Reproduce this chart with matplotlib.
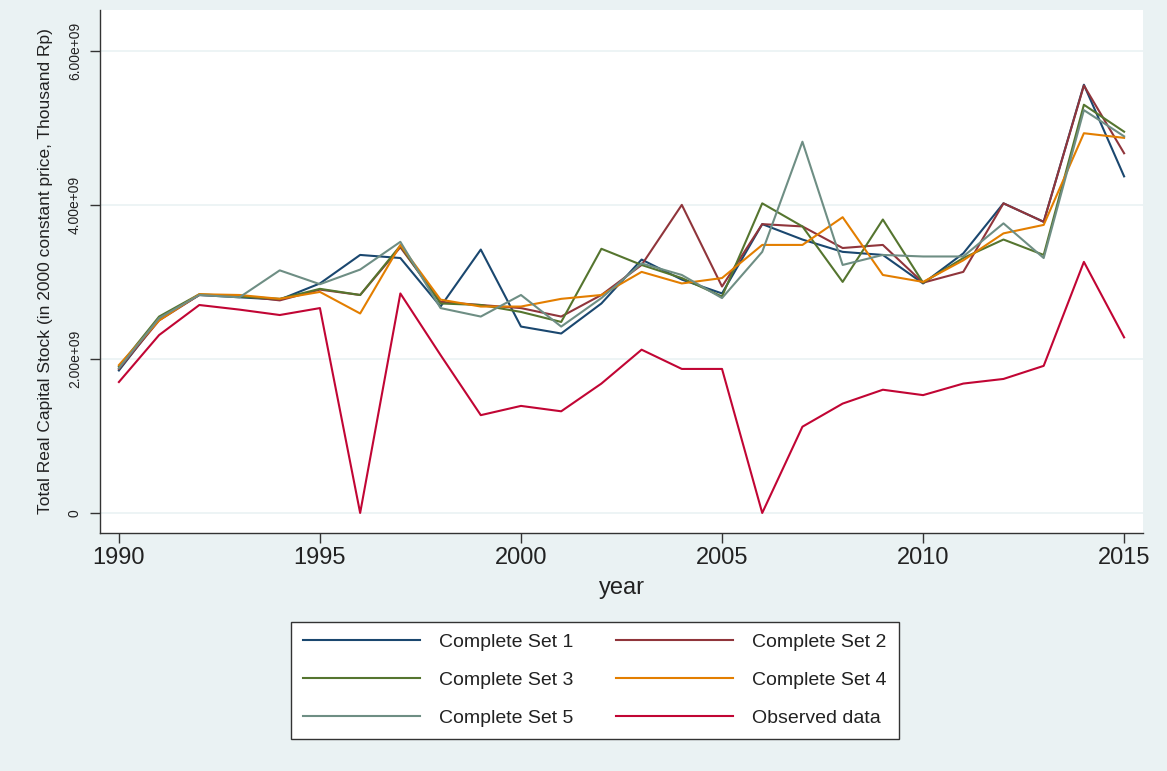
import matplotlib
matplotlib.use("Agg")
import matplotlib.pyplot as plt
import numpy as np

years = list(range(1990, 2016))

set1 = [1.85, 2.52, 2.83, 2.80, 2.77, 2.98, 3.35, 3.31, 2.68, 3.42, 2.42, 2.33, 2.72,
        3.29, 3.03, 2.85, 3.75, 3.55, 3.39, 3.35, 2.98, 3.37, 4.02, 3.78, 5.56, 4.37]
set2 = [1.87, 2.50, 2.83, 2.82, 2.76, 2.90, 2.83, 3.45, 2.74, 2.70, 2.66, 2.55, 2.83,
        3.22, 4.00, 2.94, 3.75, 3.72, 3.44, 3.48, 2.99, 3.13, 4.02, 3.78, 5.55, 4.67]
set3 = [1.90, 2.55, 2.84, 2.81, 2.78, 2.91, 2.83, 3.47, 2.72, 2.70, 2.61, 2.48, 3.43,
        3.22, 3.05, 2.81, 4.02, 3.72, 3.00, 3.81, 2.99, 3.31, 3.55, 3.35, 5.30, 4.95]
set4 = [1.92, 2.50, 2.84, 2.83, 2.78, 2.87, 2.59, 3.48, 2.77, 2.68, 2.68, 2.78, 2.83,
        3.13, 2.98, 3.05, 3.48, 3.48, 3.84, 3.09, 3.00, 3.28, 3.63, 3.74, 4.93, 4.87]
set5 = [1.88, 2.53, 2.83, 2.80, 3.15, 2.97, 3.16, 3.52, 2.66, 2.55, 2.83, 2.42, 2.79,
        3.24, 3.09, 2.79, 3.39, 4.82, 3.22, 3.35, 3.33, 3.33, 3.76, 3.31, 5.23, 4.89]
observed = [1.70, 2.31, 2.70, 2.64, 2.57, 2.66, 0.00, 2.85, 2.05, 1.27, 1.39, 1.32, 1.68,
            2.12, 1.87, 1.87, 0.00, 1.12, 1.42, 1.60, 1.53, 1.68, 1.74, 1.91, 3.26, 2.28]

labels = ["Complete Set 1", "Complete Set 2", "Complete Set 3",
          "Complete Set 4", "Complete Set 5", "Observed data"]
colors = ["#1a476f", "#90353b", "#55752f", "#e37e00", "#6e8e84", "#c10534"]

xticks = [1990, 1995, 2000, 2005, 2010, 2015]
yticks = [0, 2e9, 4e9, 6e9]
ytick_labels = ["0", "2.00e+09", "4.00e+09", "6.00e+09"]

plt.rcParams['font.family'] = ['Liberation Sans', 'DejaVu Sans']

bg = "#eaf2f3"
fig = plt.figure(figsize=(11.67, 7.71), dpi=100, facecolor=bg)
ax = fig.add_axes([100/1167, 1 - 533/771, (1143-100)/1167, (533-10)/771])
ax.set_facecolor("white")

series = [set1, set2, set3, set4, set5, observed]
handles = []
for vals, lab, col in zip(series, labels, colors):
    h, = ax.plot(years, np.array(vals) * 1e9, color=col, lw=1.5, label=lab)
    handles.append(h)

ax.set_xlim(1989.53, 2015.47)
ax.set_ylim(-0.26e9, 6.53e9)
ax.set_xticks(xticks)
ax.set_xticklabels([str(t) for t in xticks], fontsize=17)
ax.set_yticks(yticks)
ax.set_yticklabels(ytick_labels, fontsize=10, rotation=90, va='center', ha='right')
ax.grid(axis='y', color=bg, lw=1.2)
ax.set_axisbelow(True)
for s in ['top', 'right']:
    ax.spines[s].set_visible(False)
for s in ['left', 'bottom']:
    ax.spines[s].set_color('#333333')
    ax.spines[s].set_linewidth(1.0)
ax.tick_params(axis='both', length=7, width=1, color='#333333', colors='#222222')
ax.tick_params(axis='y', pad=6)
ax.tick_params(axis='x', pad=3)
ax.set_xlabel("year", fontsize=17, color='#222222', labelpad=6)
ax.set_ylabel("Total Real Capital Stock (in 2000 constant price, Thousand Rp)",
              fontsize=12.5, color='#222222', labelpad=11)

# legend filled row by row as in the reference
order = [0, 2, 4, 1, 3, 5]
leg = fig.legend(handles=[handles[i] for i in order], labels=[labels[i] for i in order],
                 ncol=2, loc='center',
                 bbox_to_anchor=(595/1167, 1 - 680/771), fontsize=14,
                 frameon=True, fancybox=False, edgecolor='#333333',
                 facecolor='white', framealpha=1.0,
                 handlelength=6.0, handletextpad=1.0, columnspacing=2.2,
                 labelspacing=1.05, borderpad=0.6)
leg.get_frame().set_linewidth(1.0)
for t in leg.get_texts():
    t.set_color('#222222')

fig.savefig("out.png", dpi=100, facecolor=bg)
